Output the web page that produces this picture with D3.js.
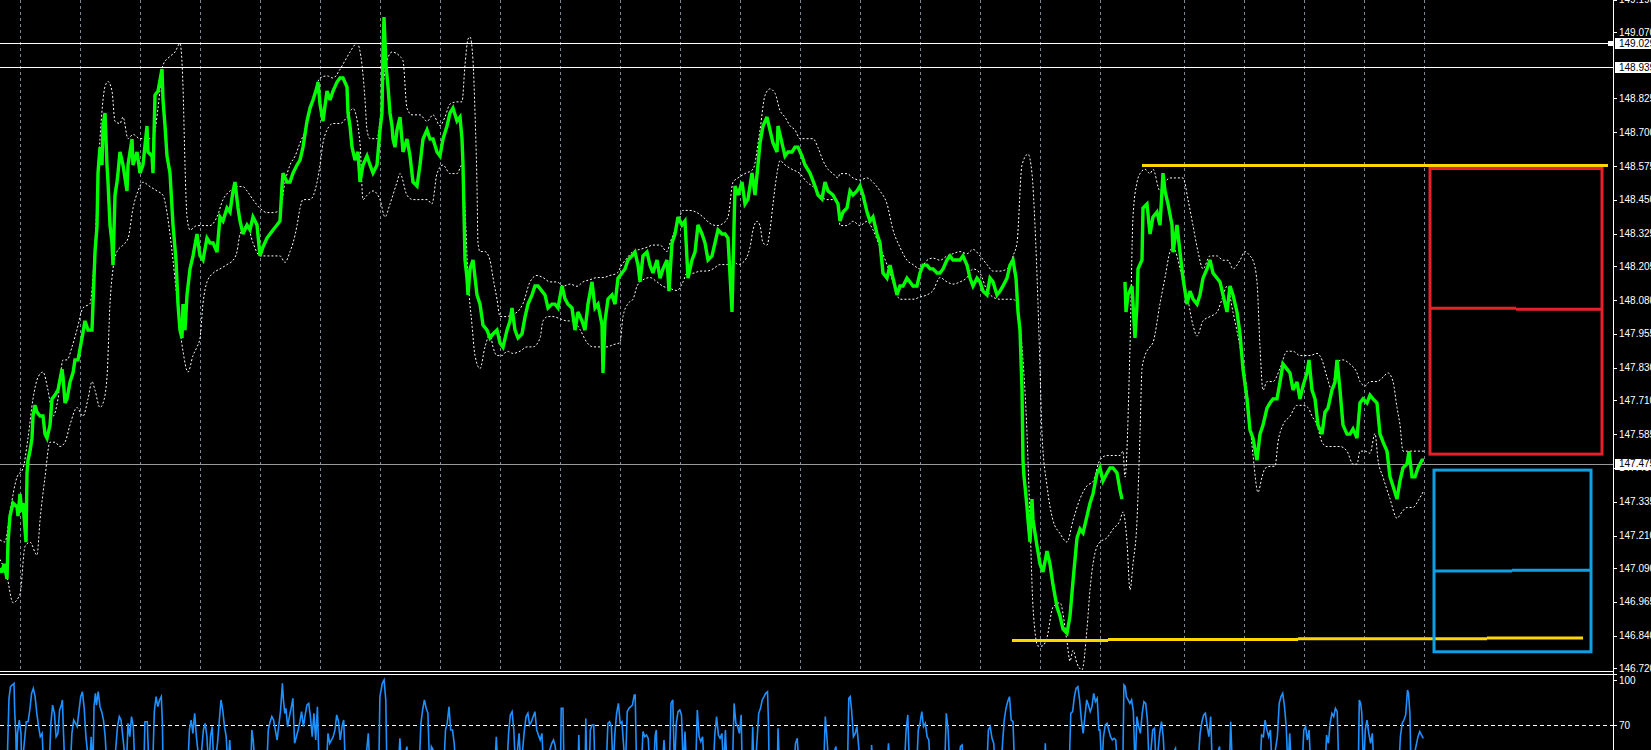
<!DOCTYPE html>
<html><head><meta charset="utf-8">
<script src="https://cdn.jsdelivr.net/npm/d3@7"></script>
<style>html,body{margin:0;padding:0;background:#000;overflow:hidden}svg{display:block}</style>
</head><body>
<script>
// ---------------- DATA ----------------
const priceTicks = [149.190,149.070,148.825,148.700,148.575,148.450,148.325,148.205,148.080,147.955,147.830,147.710,147.585,147.460,147.335,147.210,147.090,146.965,146.840,146.720];
const indicatorTicks = [100,70];
const indicatorLevel = 70;
const gridBars = [20,80,140,200,260,320,380,440,500,560,620,680,740,800,860,920,980,1040,1100,1184,1244,1304,1364,1424];
const hLines = [149.029,148.939];
const bidPrice = 147.475;
const priceA = [[0,147.090],[2,147.074],[4,147.106],[7,147.050],[8,147.186],[10,147.282],[13,147.330],[17,147.316],[18,147.282],[20,147.364],[22,147.297],[23,147.330],[26,147.186],[27,147.441],[28,147.489],[30,147.522],[32,147.570],[33,147.652],[35,147.692],[37,147.666],[40,147.652],[43,147.652],[45,147.585],[47,147.570],[50,147.618],[52,147.715],[55,147.729],[58,147.748],[62,147.825],[63,147.796],[65,147.700],[67,147.715],[70,147.777],[73,147.811],[75,147.859],[78,147.859],[82,147.940],[85,148.003],[88,147.969],[92,147.969],[93,148.065],[95,148.257],[97,148.353],[98,148.549],[100,148.645],[102,148.579],[103,148.723],[105,148.771],[107,148.579],[108,148.516],[110,148.357],[112,148.291],[113,148.209],[115,148.468],[117,148.516],[118,148.549],[120,148.627],[123,148.579],[127,148.483],[128,148.579],[132,148.675],[133,148.579],[137,148.627],[140,148.549],[143,148.579],[147,148.723],[148,148.627],[152,148.612],[153,148.549],[155,148.837],[158,148.852],[162,148.933],[163,148.819],[165,148.723],[167,148.612],[170,148.549],[173,148.357],[176,148.228],[178,148.065],[180,147.969],[182,147.940],[183,148.065],[185,147.969],[187,148.099],[190,148.195],[193,148.243],[197,148.324],[200,148.243],[203,148.228],[207,148.309],[210,148.291],[213,148.291],[217,148.257],[220,148.387],[223,148.372],[227,148.420],[230,148.405],[233,148.483],[235,148.516],[238,148.420],[240,148.372],[243,148.324],[247,148.357],[250,148.339],[253,148.387],[257,148.357],[260,148.243],[263,148.276],[267,148.309],[270,148.324],[273,148.339],[277,148.357],[280,148.372],[282,148.501],[283,148.549],[287,148.516],[290,148.516],[293,148.549],[297,148.579],[300,148.597],[303,148.645],[307,148.741],[310,148.789],[313,148.819],[317,148.867],[318,148.885],[320,148.804],[323,148.741],[327,148.852],[330,148.819],[333,148.852],[337,148.885],[340,148.900],[343,148.900],[347,148.867],[348,148.771],[350,148.723],[352,148.645],[355,148.597],[358,148.627],[360,148.516],[363,148.579],[367,148.612],[370,148.579],[373,148.549],[377,148.579],[380,148.708],[382,148.771],[383,148.996],[384,149.125],[386,148.948],[388,148.867],[390,148.771],[392,148.723],[393,148.675],[395,148.645],[397,148.708],[400,148.756],[403,148.627],[407,148.675],[410,148.612],[413,148.516],[417,148.501],
[420,148.579],[423,148.675],[427,148.708],[430,148.675],[433,148.675],[437,148.627],[440,148.612],[443,148.675],[447,148.723],[450,148.771],[453,148.789],[457,148.741],[460,148.756],[462,148.675],[463,148.579],[465,148.228],[467,148.161],[468,148.099],[470,148.195],[473,148.228],[477,148.099],[480,148.065],[483,147.988],[487,147.969],[490,147.940],[493,147.955],[497,147.969],[500,147.921],[503,147.906],[507,147.969],[510,148.003],[512,148.051],[515,147.969],[518,147.940],[522,147.955],[525,148.017],[528,148.065],[532,148.099],[535,148.132],[538,148.132],[542,148.113],[545,148.099],[548,148.051],[552,148.065],[555,148.065],[558,148.051],[562,148.132],[565,148.084],[568,148.065],[572,148.051],[575,147.969],[578,148.036],[582,148.003],[585,147.969],[588,148.065],[592,148.147],[595,148.051],[598,148.065],[602,147.988],[603,147.811],[605,148.003],[608,148.084],[612,148.099],[615,148.065],[618,148.161],[622,148.180],[625,148.195],[628,148.228],[632,148.243],[635,148.257],[638,148.209],[640,148.147],[643,148.243],[647,148.257],[650,148.209],[653,148.180],[657,148.228],[660,148.161],[663,148.195],[667,148.228],[669,148.113],[672,148.291],[675,148.324],[678,148.387],[682,148.357],[685,148.372],[688,148.161],[692,148.228],[695,148.257],[698,148.357],[702,148.324],[705,148.291],[708,148.228],[712,148.243],[715,148.291],[718,148.339],[722,148.324],[725,148.324],[728,148.309],[732,148.036],[733,148.195],[735,148.501],[738,148.468],[742,148.516],[745,148.435],[748,148.453],[752,148.549],[755,148.468],[758,148.579],[760,148.660],[763,148.723],[767,148.756],[770,148.708],[773,148.660],[777,148.627],[778,148.723],[782,148.660],[785,148.612],[788,148.627],[792,148.627],[795,148.645],[798,148.645],[802,148.612],[805,148.579],[810,148.549],[815,148.501],[818,148.468],[822,148.453],[825,148.516],[828,148.483],[833,148.468],[838,148.435],
[840,148.372],[843,148.405],[847,148.420],[850,148.483],[853,148.468],[857,148.483],[860,148.501],[863,148.468],[867,148.405],[870,148.372],[873,148.387],[877,148.324],[880,148.291],[883,148.180],[887,148.161],[890,148.209],[893,148.161],[897,148.099],[900,148.132],[903,148.132],[907,148.161],[910,148.147],[913,148.132],[917,148.132],[920,148.180],[923,148.209],[927,148.209],[930,148.195],[933,148.195],[937,148.180],[940,148.180],[943,148.195],[947,148.228],[950,148.243],[953,148.228],[957,148.228],[960,148.228],[963,148.243],[967,148.209],[970,148.161],[973,148.132],[977,148.161],[980,148.147],[983,148.113],[987,148.099],[990,148.161],[993,148.147],[997,148.099],[1000,148.113],[1003,148.132],[1007,148.161],[1010,148.209],[1013,148.228],[1016,148.161],[1018,148.036],[1020,147.969],[1022,147.748],[1023,147.489],[1024,147.427],[1025,147.393],[1027,147.316],[1028,147.268],[1030,147.186],[1032,147.345],[1033,147.268],[1037,147.172],[1040,147.105],[1043,147.076],[1047,147.153],[1050,147.105],[1053,147.028],[1057,146.946],[1060,146.913],[1063,146.865],[1067,146.850],[1070,146.913],[1073,147.042],[1077,147.201],[1080,147.234],[1083,147.220],[1087,147.282],[1090,147.330],[1093,147.364],[1097,147.441],[1100,147.460],[1103,147.412],[1107,147.441],[1110,147.460],[1113,147.460],[1117,147.441],[1120,147.378],[1122,147.345]];
const priceB = [[1125,148.147],[1126,148.036],[1128,148.099],[1132,148.132],[1135,147.940],[1137,148.065],[1138,148.195],[1142,148.228],[1143,148.420],[1147,148.435],[1150,148.324],[1153,148.387],[1157,148.405],[1160,148.357],[1163,148.549],[1165,148.483],[1168,148.435],[1172,148.357],[1173,148.257],[1177,148.357],[1180,148.257],[1183,148.161],[1187,148.065],[1190,148.113],[1193,148.084],[1197,148.065],[1200,148.099],[1203,148.161],[1207,148.195],[1210,148.228],[1213,148.180],[1217,148.161],[1220,148.147],[1223,148.099],[1227,148.036],[1230,148.132],[1233,148.099],[1237,148.036],[1240,147.955],[1243,147.825],[1247,147.715],[1250,147.600],[1253,147.570],[1257,147.489],[1260,147.585],[1263,147.618],[1267,147.681],[1270,147.700],[1273,147.715],[1277,147.715],[1280,147.777],[1283,147.844],[1287,147.825],[1290,147.811],[1293,147.748],[1297,147.777],[1300,147.715],[1303,147.763],[1307,147.811],[1309,147.859],[1312,147.748],[1315,147.715],[1318,147.618],[1322,147.585],[1325,147.666],[1328,147.681],[1332,147.748],[1335,147.777],[1337,147.859],[1340,147.748],[1343,147.618],[1347,147.585],[1350,147.585],[1353,147.604],[1357,147.570],[1360,147.700],[1363,147.715],[1367,147.700],[1370,147.729],[1373,147.715],[1377,147.700],[1380,147.585],[1383,147.556],[1387,147.522],[1390,147.427],[1393,147.393],[1397,147.345],[1400,147.412],[1403,147.460],[1407,147.475],[1409,147.522],[1412,147.427],[1415,147.427],[1418,147.460],[1422,147.489],[1424,147.489]];
const upperBand = [[0,147.194],[5,147.186],[10,147.298],[17,147.426],[23,147.458],[28,147.571],[33,147.715],[38,147.795],[43,147.814],[48,147.747],[53,147.651],[58,147.715],[63,147.859],[67,147.859],[72,147.907],[77,147.971],[83,148.051],[90,148.067],[95,148.291],[100,148.676],[105,148.868],[108,148.887],[112,148.852],[115,148.740],[120,148.732],[123,148.756],[128,148.676],[133,148.692],[140,148.676],[147,148.676],[153,148.676],[158,148.788],[163,148.948],[170,148.980],[175,148.996],[180,149.028],[183,148.868],[185,148.579],[187,148.387],[190,148.339],[197,148.355],[203,148.355],[210,148.355],[217,148.387],[223,148.451],[230,148.483],[237,148.499],[243,148.499],[247,148.483],[253,148.451],[260,148.419],[267,148.403],[273,148.403],[280,148.411],[285,148.515],[290,148.579],[295,148.611],[300,148.660],[307,148.724],[313,148.820],[320,148.900],[327,148.908],[333,148.900],[340,148.932],[345,148.964],[350,148.996],[357,149.028],[362,148.948],[365,148.820],[367,148.708],[370,148.676],[377,148.676],[380,148.740],[383,148.868],[387,148.964],[392,148.996],[400,148.980],[403,148.964],[407,148.788],[412,148.764],[420,148.764],[427,148.740],[433,148.764],[440,148.724],[445,148.756],[450,148.804],[457,148.812],[462,148.812],[465,148.948],[468,149.044],[470,149.052],[473,148.964],[475,148.772],[477,148.499],[478,148.291],[480,148.259],[485,148.259],[490,148.227],[493,148.163],[497,148.083],[500,148.019],[507,148.019],[512,148.027],[517,148.035],[523,148.067],[530,148.147],[537,148.171],[543,148.163],[550,148.147],[557,148.147],[563,148.131],[570,148.139],[577,148.131],[583,148.147],[590,148.155],[597,148.163],[603,148.163],[610,148.171],[617,148.179],[622,148.211],[627,148.235],[633,148.259],[640,148.267],[647,148.275],[653,148.283],[660,148.283],[667,148.259],[670,148.291],[677,148.355],[683,148.411],[690,148.411],[697,148.403],[703,148.387],[710,148.363],[717,148.355],[723,148.363],[728,148.387],[733,148.515],[738,148.531],[745,148.547],[753,148.563],[760,148.708],[765,148.836],[770,148.860],[775,148.844],[780,148.780],[785,148.756],[790,148.724],[795,148.708],[800,148.676],[807,148.676],[813,148.676],[818,148.643],[823,148.595],[828,148.563],[833,148.547],[838,148.531],[840,148.547],[847,148.547],[853,148.531],[860,148.523],[867,148.531],[873,148.515],[880,148.483],[887,148.435],[893,148.339],[900,148.275],[907,148.227],[913,148.211],[920,148.195],[927,148.227],[933,148.235],[940,148.227],[947,148.243],[953,148.251],[960,148.259],[967,148.251],[973,148.267],[980,148.243],[987,148.211],[993,148.187],[1000,148.187],[1007,148.195],[1013,148.243],[1017,148.291],[1022,148.579],[1028,148.619],[1032,148.547],[1035,148.355],[1038,148.067],[1040,147.827],[1042,147.587],[1047,147.394],[1053,147.266],[1060,147.218],[1067,147.186],[1073,147.266],[1080,147.346],[1087,147.394],[1093,147.410],[1100,147.490],[1107,147.506],[1113,147.506],[1120,147.506],[1123,147.522],[1125,147.426],[1130,147.907],[1133,148.387],[1137,148.515],[1140,148.547],[1145,148.563],[1150,148.547],[1153,148.563],[1160,148.483],[1165,148.515],[1170,148.531],[1177,148.531],[1183,148.531],[1188,148.451],[1193,148.355],[1198,148.259],[1203,148.195],[1210,148.243],[1217,148.243],[1223,148.227],[1228,148.227],[1233,148.195],[1240,148.227],[1245,148.259],[1250,148.243],[1253,148.227],[1257,148.147],[1260,147.907],[1263,147.747],[1267,147.779],[1273,147.779],[1280,147.827],[1287,147.891],[1293,147.891],[1300,147.875],[1310,147.875],[1317,147.883],[1322,147.859],[1327,147.795],[1332,147.747],[1337,147.851],[1343,147.859],[1350,147.843],[1357,147.811],[1360,147.779],[1365,147.763],[1370,147.779],[1377,147.779],[1383,147.795],[1388,147.811],[1393,147.779],[1397,147.683],[1400,147.619],[1403,147.522],[1410,147.522],[1417,147.522],[1424,147.522]];
const lowerBand = [[0,147.122],[7,147.058],[13,146.962],[20,146.994],[25,147.170],[30,147.186],[37,147.138],[40,147.266],[45,147.426],[50,147.555],[55,147.555],[60,147.539],[65,147.555],[70,147.619],[77,147.683],[83,147.651],[88,147.715],[92,147.779],[95,147.747],[100,147.683],[103,147.699],[107,147.795],[110,148.067],[113,148.195],[117,148.259],[123,148.283],[128,148.307],[133,148.419],[138,148.483],[143,148.515],[150,148.499],[157,148.483],[163,148.467],[167,148.403],[170,148.323],[173,148.227],[177,148.083],[180,147.971],[183,147.891],[188,147.814],[193,147.875],[197,147.907],[200,147.939],[203,148.067],[207,148.147],[213,148.179],[220,148.195],[227,148.211],[233,148.227],[237,148.259],[240,148.323],[247,148.355],[253,148.291],[260,148.243],[267,148.243],[273,148.243],[280,148.243],[285,148.219],[290,148.259],[293,148.291],[297,148.355],[300,148.419],[303,148.451],[310,148.451],[317,148.515],[320,148.579],[323,148.660],[327,148.708],[333,148.732],[340,148.732],[347,148.756],[353,148.788],[360,148.660],[363,148.451],[367,148.467],[373,148.483],[380,148.451],[385,148.387],[390,148.435],[397,148.515],[400,148.547],[407,148.467],[413,148.451],[420,148.451],[427,148.451],[432,148.435],[437,148.547],[443,148.579],[450,148.547],[457,148.547],[462,148.579],[465,148.419],[468,148.163],[472,147.987],[475,147.875],[480,147.827],[485,147.907],[490,147.955],[493,147.907],[497,147.875],[502,147.875],[507,147.891],[513,147.883],[520,147.891],[527,147.907],[533,147.907],[540,147.939],[543,148.003],[548,148.019],[553,148.019],[560,148.011],[567,148.003],[573,148.003],[580,147.971],[587,147.923],[593,147.907],[600,147.907],[607,147.907],[613,147.915],[620,147.923],[623,148.019],[628,148.067],[633,148.083],[637,148.131],[643,148.155],[650,148.163],[657,148.147],[663,148.131],[670,148.123],[677,148.115],[683,148.147],[687,148.179],[693,148.179],[700,148.187],[707,148.187],[713,148.195],[720,148.211],[727,148.211],[733,148.227],[738,148.211],[743,148.219],[750,148.275],[753,148.339],[757,148.371],[760,148.355],[763,148.291],[767,148.283],[770,148.339],[773,148.435],[777,148.547],[780,148.595],[785,148.579],[792,148.563],[800,148.547],[807,148.515],[813,148.499],[820,148.467],[827,148.451],[833,148.451],[838,148.435],[840,148.355],[847,148.355],[853,148.371],[860,148.355],[867,148.371],[873,148.339],[880,148.275],[887,148.211],[893,148.147],[900,148.083],[907,148.083],[913,148.083],[920,148.091],[927,148.099],[933,148.115],[940,148.163],[947,148.147],[953,148.139],[960,148.147],[967,148.163],[973,148.195],[980,148.179],[987,148.115],[993,148.091],[1000,148.083],[1007,148.083],[1013,148.083],[1017,148.067],[1022,147.907],[1027,147.587],[1030,147.266],[1033,146.946],[1038,146.802],[1042,146.802],[1047,146.834],[1053,146.946],[1060,146.962],[1067,146.818],[1070,146.746],[1073,146.786],[1077,146.738],[1082,146.714],[1087,146.866],[1090,147.010],[1093,147.106],[1097,147.170],[1100,147.186],[1107,147.202],[1113,147.234],[1120,147.266],[1123,147.298],[1127,147.186],[1130,147.010],[1133,147.106],[1137,147.266],[1140,147.587],[1142,147.827],[1145,147.875],[1150,147.907],[1153,147.923],[1160,148.067],[1165,148.163],[1170,148.259],[1173,148.275],[1177,148.243],[1180,148.195],[1187,148.099],[1193,147.987],[1197,147.947],[1203,148.003],[1210,148.019],[1217,148.035],[1222,148.083],[1227,148.131],[1233,148.035],[1240,147.907],[1247,147.747],[1253,147.507],[1258,147.370],[1262,147.426],[1265,147.458],[1270,147.466],[1275,147.466],[1278,147.555],[1283,147.619],[1290,147.651],[1297,147.691],[1303,147.691],[1308,147.683],[1312,147.651],[1317,147.619],[1322,147.555],[1327,147.539],[1333,147.539],[1340,147.539],[1347,147.522],[1353,147.474],[1357,147.474],[1360,147.522],[1365,147.522],[1370,147.514],[1375,147.587],[1378,147.490],[1383,147.426],[1390,147.346],[1397,147.274],[1402,147.298],[1407,147.314],[1413,147.314],[1418,147.338],[1424,147.378]];
const oscillator = [[7,40],[9,87.8],[10.5,95.6],[12.3,96.7],[14,97.8],[14.7,78.9],[15.8,64.4],[16.5,40],[17.5,64.4],[19.3,73.3],[21,64.4],[21.7,40],[26.3,72.2],[28.1,72.2],[29.8,80],[31.6,91.1],[33.3,94.4],[35.1,88.9],[36.8,77.8],[38.6,68.9],[40.3,62.2],[42.1,64.4],[43.8,40],[49.1,40],[50.9,71.1],[52.6,83.3],[54.4,77.8],[56.1,62.2],[57.9,64.4],[59.6,80],[61.4,83.3],[62.4,86.7],[63.1,72.2],[64.9,40],[70.2,40],[71.9,64.4],[73.7,73.3],[77.2,68.9],[78.9,78.9],[80.7,88.9],[82.4,92.2],[84.2,81.1],[85.9,62.2],[89.4,40],[91.2,62.2],[93,40],[94,82.2],[95.4,91.1],[96.5,83.3],[98.2,92.2],[100,82.2],[101.7,78.9],[103.5,73.3],[105.2,62.2],[107,40],[114,40],[117.5,68.9],[119.3,75.6],[121,73.3],[122.8,62.2],[126.3,40],[128,71.1],[129.8,62.2],[131.5,75.6],[133.3,68.9],[135,40],[143.8,40],[144.9,72.2],[147.3,72.2],[149,40],[152.6,40],[154.3,78.9],[156.1,88.9],[157.8,82.2],[159.6,86.7],[161.3,88.9],[162.4,71.1],[163.1,40],[187.7,40],[189.4,66.7],[191.2,73.3],[192.9,64.4],[194.7,77.8],[196.4,62.2],[199.9,40],[203.4,66.7],[205.2,71.1],[206.9,62.2],[208.7,40],[210.5,62.2],[212.2,68.9],[214,40],[217.5,57.8],[219.2,72.2],[221,86.7],[222.7,80],[224.5,68.9],[226.2,62.2],[228,40],[229.7,60],[231.5,40],[250.8,40],[251.8,66.7],[253.2,60],[255.3,40],[266.6,40],[268.3,66.7],[270.1,72.2],[271.8,75.6],[273.6,73.3],[275.3,66.7],[277.1,60],[280.6,80],[282.4,97.8],[283.4,86.7],[284.8,77.8],[285.9,81.1],[287.6,68.9],[289.4,75.6],[291.1,81.1],[292.9,87.8],[294.6,57.8],[296.4,62.2],[298.1,66.7],[299.9,72.2],[301.6,78.9],[303.4,68.9],[305.2,76.7],[306.9,83.3],[308.7,84.4],[310.4,75.6],[312.2,62.2],[313.9,77.8],[315.7,60],[317.4,82.2],[319.2,40],[326.2,40],[328,64.4],[329.7,57.8],[333.2,62.2],[335,66.7],[336.7,76.7],[338.5,72.2],[340.2,60],[342,68.9],[343.7,73.3],[345.5,40],[364.8,40],[368.3,64.4],[370,40],[378.8,40],[379.9,88.9],[382.3,97.8],[384.1,100],[385.8,86.7],[386.9,40],[398.1,40],[399.9,61.1],[401.6,40],[406.9,55.6],[408.6,40],[419.1,40],[420.9,71.1],[422.6,80],[424.4,86.7],[426.2,81.1],[427.9,77.8],[429.7,40],[431.4,55.6],[443.7,40],[445.5,66.7],[447.2,71.1],[449,82.2],[450.7,66.7],[452.5,66.7],[454.2,57.8],[456,40],[494.6,40],[496.3,62.2],[498.1,40],[506.8,40],[508.6,64.4],[510.3,76.7],[512.1,78.9],[513.8,66.7],[515.6,40],[519.1,64.4],[520.9,40],[524.4,66.7],[526.1,75.6],[527.9,77.8],[529.6,70],[531.4,72.2],[533.2,75.6],[534.9,78.9],[536.7,66.7],[538.4,63.3],[540.2,60],[541.9,64.4],[543.7,40],
[551.8,57.8],[553.5,60],[555.3,55.6],[557,40],[560.5,40],[561.2,81.1],[563,81.1],[564,40],[578,40],[578.8,63.3],[579.8,40],[585.1,40],[585.8,74.4],[586.8,40],[589.3,40],[590.3,66.7],[592.1,70],[593.8,70],[594.9,40],[606.1,40],[607.9,71.1],[609.6,72.2],[611.4,68.9],[613.1,40],[614.9,64.4],[616.6,77.8],[618.4,84.4],[620.2,71.1],[621.9,72.2],[623.7,55.6],[625.4,40],[627.2,78.9],[628.9,81.1],[630.7,82.2],[632.4,83.3],[634.2,90],[635.2,90],[636.6,40],[641.2,40],[643,65.6],[644.7,62.2],[646.5,63.3],[648.2,61.1],[650,40],[653.5,40],[655.2,63.3],[656.3,66.7],[657.3,40],[662.2,40],[664,60],[665.7,40],[669.3,40],[671,84.4],[672.8,86.7],[674.5,40],[676.3,71.1],[678,78.9],[679.8,80],[681.5,76.7],[683.3,40],[685,65.6],[686.8,40],[695.6,40],[697.3,80],[699.1,62.2],[700.8,58.9],[702.6,62.2],[704.3,40],[713.1,40],[714.9,64.4],[716.6,75.6],[718.4,63.3],[720.1,61.1],[721.9,64.4],[723.6,40],[725.4,66.7],[727.1,40],[732.4,40],[734.1,84.4],[735.9,71.1],[737.7,68.9],[739.4,64.4],[741.2,76.7],[742.2,40],[751.7,40],[752.7,68.9],[753.9,40],[755.2,40],[758.7,77.8],[760.5,81.1],[762.2,86.7],[764,88.9],[765.7,91.1],[767.5,92.2],[768.5,71.1],[769.2,40],[777.3,40],[778,67.8],[779.7,40],[793.8,40],[795.5,57.8],[797.3,61.1],[799,40],[823.6,40],[825.3,75.6],[827.1,60],[828.9,40],[835.9,55.6],[837.6,40],[847.4,40],[848.8,87.8],[850.2,88.9],[851.6,80],[853.4,62.2],[855.2,64.4],[856.9,68.9],[858.7,55.6],[860.4,40],[870.9,40],[871.6,56.7],[872.7,40],[886.7,40],[888.5,57.8],[890.2,40],[904.3,40],[906,65.6],[907.8,76.7],[909.5,40],[916.5,40],[918.3,66.7],[920,71.1],[921.8,78.9],[923.5,68.9],[925.3,71.1],[927.1,62.2],[928.8,60],[930.6,40],[944.6,40],[946.3,77.8],[948.1,66.7],[949.9,40],[958.6,40],[960.4,55.6],[962.1,56.7],[963.9,40],[986.7,40],[988.4,66.7],[990.2,68.9],[992,61.1],[993.7,57.8],[995.5,40],[1000.7,40],[1004.2,73.3],[1006,81.1],[1007.7,85.6],[1009.5,88.9],[1011.2,73.3],[1013,72.2],[1014.7,40],[1044.6,40],[1045.3,57.8],[1046.3,40],[1069.1,40],[1070.8,77.8],[1072.6,78.9],[1074.4,88.9],[1076.1,94.4],[1077.9,95.6],[1079.6,86.7],[1081.4,73.3],[1083.2,64.4],[1084.9,75.6],[1086.7,86.7],[1088.4,83.3],[1090.2,78.9],[1091.9,82.2],[1093.7,91.1],[1095.4,85.6],[1097.2,87.8],[1098.9,66.7],
[1100,66.7],[1101.8,40],[1103.5,62.2],[1105.3,70],[1107,71.1],[1108.8,66.7],[1110.5,62.2],[1112.3,60],[1114.1,61.1],[1115.8,60],[1117.6,40],[1122.8,40],[1123.9,96.7],[1125.3,95.6],[1126.4,88.9],[1128.1,86.7],[1129.9,84.4],[1131.6,86.7],[1133.4,78.9],[1135.1,40],[1136.9,75.6],[1138.7,68.9],[1140.4,64.4],[1142.2,77.8],[1143.9,85.6],[1145.7,84.4],[1147.4,73.3],[1149.2,40],[1152.7,66.7],[1154.5,67.8],[1156.2,40],[1159.7,64.4],[1161.5,72.2],[1163.2,62.2],[1165,40],[1175.5,54.4],[1177.3,40],[1197.7,40],[1200.1,64.4],[1201.9,72.2],[1203.7,76.7],[1205.4,77.8],[1207.2,68.9],[1208.9,62.2],[1210.7,75.6],[1212.4,40],[1219.5,55.6],[1221.2,40],[1229.3,40],[1230.7,72.2],[1232.5,40],[1259.9,40],[1261.6,63.3],[1263.4,62.2],[1265.1,73.3],[1266.9,66.7],[1268.7,62.2],[1270.4,66.7],[1272.2,40],[1277.4,62.2],[1279.2,84.4],[1281,88.9],[1282.7,91.1],[1284.5,82.2],[1286.2,68.9],[1288,40],[1289.7,64.4],[1291.5,40],[1302,40],[1303.8,66.7],[1305.6,68.9],[1307.3,60],[1309.1,66.7],[1310.8,40],[1324.9,40],[1326.6,63.3],[1328.4,57.8],[1330.1,71.1],[1331.9,77.8],[1333.7,75.6],[1335.4,81.1],[1337.2,78.9],[1338.9,40],[1358.3,40],[1359.3,86.7],[1360.7,84.4],[1361.8,77.8],[1363.5,40],[1365.3,66.7],[1367,73.3],[1368.8,64.4],[1370.6,57.8],[1372.3,64.4],[1374.1,40],[1398.7,40],[1400.4,62.2],[1402.2,71.1],[1403.9,73.3],[1405.7,76.7],[1407.5,93.3],[1408.5,91.1],[1409.9,77.8],[1411,40],[1418,62.2],[1419.7,65.6],[1421.5,63.3],[1423.3,61.1]];
const yellowTop = {from:1142, to:1608, price:148.577};
const yellowBottom = [[1012,1108,146.823],[1108,1298,146.826],[1298,1487,146.829],[1487,1583,146.832]];
const redBox = {from:1430, to:1602, top:148.566, bottom:147.511, mid:[[1430,1516,148.050],[1516,1602,148.046]]};
const blueBox = {from:1434, to:1591, top:147.452, bottom:146.781, mid:[[1434,1512,147.079],[1512,1591,147.082]]};

// ---------------- LAYOUT ----------------
const W = 1651, H = 750;
const axisX = 1613;
const mainBottom = 671, indTop = 675;

const x = d3.scaleLinear().domain([0, 1613]).range([0, 1613]);
const y = d3.scaleLinear().domain([146.7100, 149.1882]).range([671, 0]);
const yi = d3.scaleLinear().domain([0, 100]).range([830, 680]);

const svg = d3.select("body").append("svg").attr("width", W).attr("height", H);
svg.append("rect").attr("width", W).attr("height", H).attr("fill", "#000");

const defs = svg.append("defs");
defs.append("clipPath").attr("id","mainClip").append("rect").attr("x",0).attr("y",0).attr("width",axisX).attr("height",mainBottom);
defs.append("clipPath").attr("id","indClip").append("rect").attr("x",0).attr("y",indTop+1).attr("width",axisX).attr("height",H-indTop);

const main = svg.append("g").attr("clip-path","url(#mainClip)");
const crisp = v => Math.round(v) + 0.5;

main.selectAll("line.grid").data(gridBars).join("line")
  .attr("x1", d => crisp(x(d))).attr("x2", d => crisp(x(d)))
  .attr("y1", 0).attr("y2", mainBottom)
  .attr("stroke", "#7a8898").attr("stroke-width", 1).attr("stroke-dasharray", "3,3");

main.selectAll("line.h").data(hLines).join("line")
  .attr("x1", 0).attr("x2", axisX)
  .attr("y1", d => crisp(y(d))).attr("y2", d => crisp(y(d)))
  .attr("stroke", "#fff").attr("stroke-width", 1);

main.append("line").attr("x1",0).attr("x2",axisX)
  .attr("y1", crisp(y(bidPrice))).attr("y2", crisp(y(bidPrice)))
  .attr("stroke","#9a9a9a").attr("stroke-width",1);

const line = d3.line().x(d => x(d[0])).y(d => y(d[1])).curve(d3.curveMonotoneX);
[upperBand, lowerBand].forEach(b => {
  main.append("path").attr("d", line(b)).attr("fill","none")
    .attr("stroke","#fff").attr("stroke-width",1).attr("stroke-dasharray","2,2");
});

const pline = d3.line().x(d => x(d[0])).y(d => y(d[1]));
[priceA, priceB].forEach(p => {
  main.append("path").attr("d", pline(p)).attr("fill","none")
    .attr("stroke","#00ff00").attr("stroke-width",3.4).attr("stroke-linejoin","miter").attr("stroke-miterlimit",3);
});

main.append("line").attr("x1", x(yellowTop.from)).attr("x2", x(yellowTop.to))
  .attr("y1", y(yellowTop.price)).attr("y2", y(yellowTop.price))
  .attr("stroke","#ffd700").attr("stroke-width",3);
main.selectAll("line.yb").data(yellowBottom).join("line")
  .attr("x1", d => x(d[0])).attr("x2", d => x(d[1]))
  .attr("y1", d => y(d[2])).attr("y2", d => y(d[2]))
  .attr("stroke","#ffd700").attr("stroke-width",3);

function box(b, color) {
  main.append("rect").attr("x", x(b.from)).attr("y", y(b.top))
    .attr("width", x(b.to) - x(b.from)).attr("height", y(b.bottom) - y(b.top))
    .attr("fill","none").attr("stroke", color).attr("stroke-width", 3);
  main.selectAll(null).data(b.mid).join("line")
    .attr("x1", d => x(d[0])).attr("x2", d => x(d[1]))
    .attr("y1", d => y(d[2])).attr("y2", d => y(d[2]))
    .attr("stroke", color).attr("stroke-width", 3);
}
box(redBox, "#e8202a");
box(blueBox, "#10a0e2");

svg.append("line").attr("x1",0).attr("x2",axisX).attr("y1",mainBottom+0.5).attr("y2",mainBottom+0.5).attr("stroke","#fff");
svg.append("line").attr("x1",0).attr("x2",axisX+4).attr("y1",indTop-0.5).attr("y2",indTop-0.5).attr("stroke","#fff");

const ind = svg.append("g").attr("clip-path","url(#indClip)");
ind.append("line").attr("x1",0).attr("x2",axisX)
  .attr("y1", crisp(yi(indicatorLevel))).attr("y2", crisp(yi(indicatorLevel)))
  .attr("stroke","#fff").attr("stroke-dasharray","4,3");
const oline = d3.line().x(d => x(d[0])).y(d => yi(d[1]));
ind.append("path").attr("d", oline(oscillator)).attr("fill","none")
  .attr("stroke","#1e90ff").attr("stroke-width",1.6);

svg.append("line").attr("x1",axisX+0.5).attr("x2",axisX+0.5).attr("y1",0).attr("y2",H).attr("stroke","#fff");
const font = "'Liberation Sans', Arial, sans-serif";
const tickG = svg.append("g");
tickG.selectAll("line").data(priceTicks).join("line")
  .attr("x1", axisX).attr("x2", axisX+4)
  .attr("y1", d => crisp(y(d))).attr("y2", d => crisp(y(d))).attr("stroke","#fff");
tickG.selectAll("text").data(priceTicks).join("text")
  .attr("x", axisX+6).attr("y", d => y(d)).attr("dy","0.35em")
  .attr("fill","#fff").attr("font-family",font).attr("font-size","10px")
  .text(d => d.toFixed(3));
const indG = svg.append("g");
indG.selectAll("line").data(indicatorTicks).join("line")
  .attr("x1", axisX).attr("x2", axisX+4)
  .attr("y1", d => crisp(yi(d))).attr("y2", d => crisp(yi(d))).attr("stroke","#fff");
indG.selectAll("text").data(indicatorTicks).join("text")
  .attr("x", axisX+6).attr("y", d => yi(d)).attr("dy","0.35em")
  .attr("fill","#fff").attr("font-family",font).attr("font-size","10px")
  .text(d => d);

const boxed = hLines.concat([bidPrice]);
const bg = svg.append("g");
bg.selectAll("rect").data(boxed).join("rect")
  .attr("x", axisX+2).attr("y", d => Math.round(y(d)) - 5)
  .attr("width", W - axisX).attr("height", 11).attr("fill","#fff");
bg.selectAll("text").data(boxed).join("text")
  .attr("x", axisX+6).attr("y", d => y(d)).attr("dy","0.35em")
  .attr("fill","#000").attr("font-family",font).attr("font-size","10px")
  .text(d => d.toFixed(3));
svg.append("rect").attr("x", axisX-5).attr("y", Math.round(y(hLines[0]))-2).attr("width",5).attr("height",5).attr("fill","#fff");
</script>
</body></html>
